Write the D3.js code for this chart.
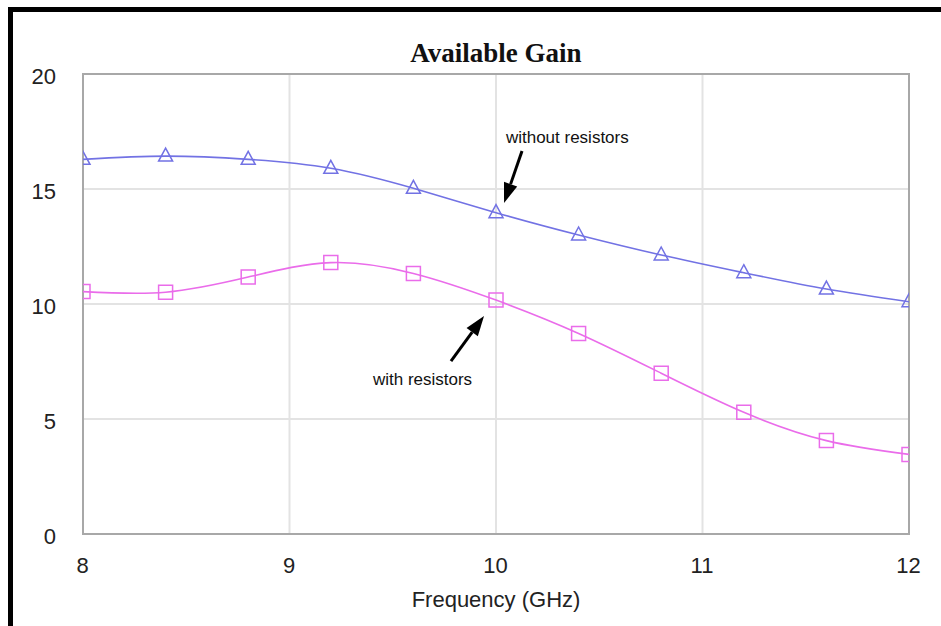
<!DOCTYPE html>
<html>
<head>
<meta charset="utf-8">
<script src="https://cdn.jsdelivr.net/npm/d3@7"></script>
<style>
  html, body { margin: 0; padding: 0; background: #fff; }
  svg { display: block; }
</style>
</head>
<body>
<svg id="chart"></svg>
<script>
// Available gain vs frequency
const freqs = [8, 8.4, 8.8, 9.2, 9.6, 10, 10.4, 10.8, 11.2, 11.6, 12];
const withoutResistors = [16.29, 16.43, 16.29, 15.90, 15.03, 13.97, 13.0, 12.13, 11.36, 10.65, 10.10];
const withResistors = [10.54, 10.51, 11.17, 11.80, 11.33, 10.17, 8.72, 6.99, 5.29, 4.06, 3.46];
const xTicks = [8, 9, 10, 11, 12];
const yTicks = [0, 5, 10, 15, 20];

// annotation anchors in data units: label position, arrow tail, arrow tip
const notes = [
  { text: "without resistors", at: [10.048, 17.0], tail: [10.126, 16.65], tip: [10.039, 14.39] },
  { text: "with resistors", at: [9.404, 6.48], tail: [9.782, 7.52], tip: [9.942, 9.48] }
];

(function () {
  const W = 941, H = 626;
  const m = { left: 83, right: 32, top: 74, bottom: 92 };
  const svg = d3.select("#chart").attr("width", W).attr("height", H);

  const x = d3.scaleLinear().domain([8, 12]).range([m.left, W - m.right]);
  const y = d3.scaleLinear().domain([0, 20]).range([H - m.bottom, m.top]);

  // black frame, cut off at the right and bottom
  svg.append("rect")
    .attr("x", 10.5).attr("y", 9.5).attr("width", 1200).attr("height", 1200)
    .attr("fill", "none").attr("stroke", "#000").attr("stroke-width", 5);

  svg.append("defs").append("clipPath").attr("id", "plot-clip")
    .append("rect")
    .attr("x", x(8)).attr("y", y(20))
    .attr("width", x(12) - x(8)).attr("height", y(0) - y(20));

  // grid
  const grid = svg.append("g");
  grid.selectAll(".gx").data(xTicks.slice(1, -1)).join("line")
    .attr("x1", d => x(d)).attr("x2", d => x(d))
    .attr("y1", y(20)).attr("y2", y(0))
    .attr("stroke", "#e3e3e3").attr("stroke-width", 2);
  grid.selectAll(".gy").data(yTicks.slice(1, -1)).join("line")
    .attr("x1", x(8)).attr("x2", x(12))
    .attr("y1", d => y(d)).attr("y2", d => y(d))
    .attr("stroke", "#e3e3e3").attr("stroke-width", 2);

  // axes (labels only, plot border drawn separately)
  const fontSans = "Liberation Sans, Arial, sans-serif";
  const gy = svg.append("g")
    .attr("transform", `translate(${m.left - 27},0)`)
    .call(d3.axisLeft(y).tickValues(yTicks).tickFormat(d3.format("d")).tickSize(0).tickPadding(0));
  const gx = svg.append("g")
    .attr("transform", `translate(0,${y(0) + 23})`)
    .call(d3.axisBottom(x).tickValues(xTicks).tickFormat(d3.format("d")).tickSize(0).tickPadding(0));
  [gy, gx].forEach(g => {
    g.select(".domain").remove();
    g.selectAll("text")
      .attr("font-family", fontSans).attr("font-size", 22).attr("fill", "#222");
  });
  gx.selectAll("text").attr("dy", "0.71em").attr("dx", -1);
  gy.selectAll("text").attr("dy", "0.42em");

  // plot border
  svg.append("rect")
    .attr("x", x(8)).attr("y", y(20))
    .attr("width", x(12) - x(8)).attr("height", y(0) - y(20))
    .attr("fill", "none").attr("stroke", "#a8a8a8").attr("stroke-width", 2);

  const series = [
    { values: withoutResistors, color: "#7272e4", shape: "triangle" },
    { values: withResistors, color: "#ea6cea", shape: "square" }
  ];
  const line = d3.line().x(d => x(d[0])).y(d => y(d[1])).curve(d3.curveNatural);
  const plot = svg.append("g").attr("clip-path", "url(#plot-clip)");

  series.forEach(s => {
    const pts = freqs.map((f, i) => [f, s.values[i]]);
    plot.append("path")
      .datum(pts)
      .attr("d", line)
      .attr("fill", "none").attr("stroke", s.color).attr("stroke-width", 1.6);
    const shapePath = s.shape === "triangle" ? "M0,-8L7,5L-7,5Z" : "M-7,-7H7V7H-7Z";
    plot.selectAll(null).data(pts).join("path")
      .attr("transform", d => `translate(${x(d[0])},${y(d[1])})`)
      .attr("d", shapePath)
      .attr("fill", "none").attr("stroke", s.color).attr("stroke-width", 1.5);
  });

  // title
  svg.append("text")
    .attr("x", (x(8) + x(12)) / 2).attr("y", 62)
    .attr("text-anchor", "middle")
    .attr("font-family", "Liberation Serif, Times New Roman, serif")
    .attr("font-weight", "bold").attr("font-size", 27).attr("fill", "#111")
    .text("Available Gain");

  // x axis title
  svg.append("text")
    .attr("x", (x(8) + x(12)) / 2).attr("y", 607)
    .attr("text-anchor", "middle")
    .attr("font-family", fontSans).attr("font-size", 22).attr("fill", "#222")
    .text("Frequency (GHz)");

  // annotations
  const ann = svg.append("g");
  notes.forEach(n => {
    ann.append("text")
      .attr("x", x(n.at[0])).attr("y", y(n.at[1]))
      .attr("font-family", fontSans).attr("font-size", 17).attr("fill", "#111")
      .text(n.text);
    const x0 = x(n.tail[0]), y0 = y(n.tail[1]), x1 = x(n.tip[0]), y1 = y(n.tip[1]);
    const ang = Math.atan2(y1 - y0, x1 - x0);
    const hl = 20, hw = 7;
    const bx = x1 - hl * Math.cos(ang), by = y1 - hl * Math.sin(ang);
    ann.append("line")
      .attr("x1", x0).attr("y1", y0).attr("x2", bx).attr("y2", by)
      .attr("stroke", "#000").attr("stroke-width", 3);
    const px = -Math.sin(ang) * hw, py = Math.cos(ang) * hw;
    ann.append("path")
      .attr("d", `M${x1},${y1}L${bx + px},${by + py}L${bx - px},${by - py}Z`)
      .attr("fill", "#000");
  });
})();
</script>
</body>
</html>
